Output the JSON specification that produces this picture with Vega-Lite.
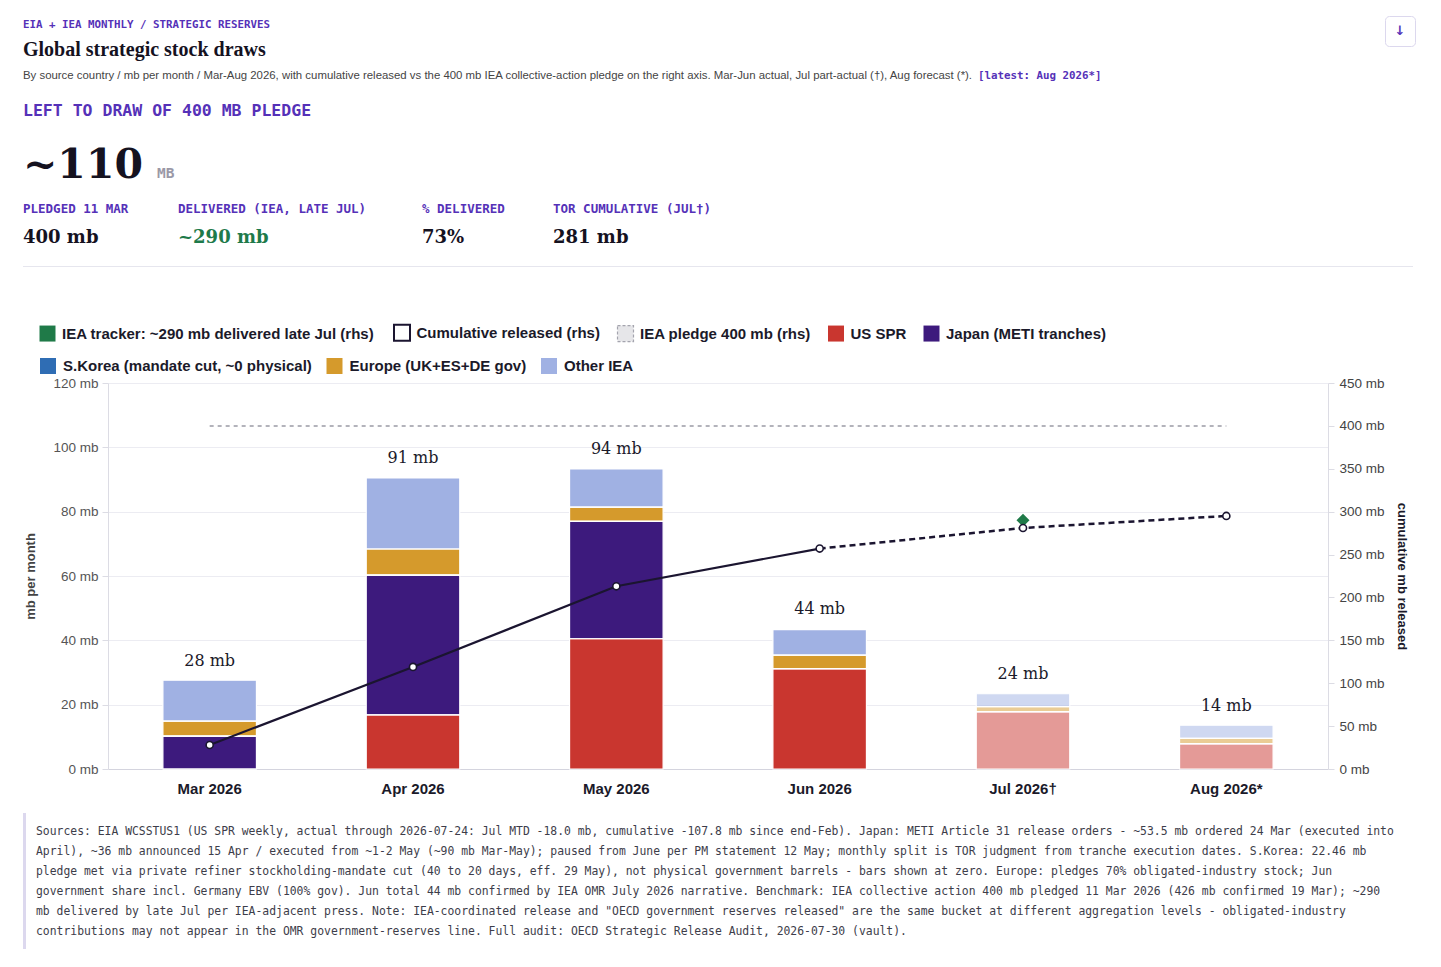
{
  "$schema": "https://vega.github.io/schema/vega-lite/v6.json",
  "background": "white",
  "padding": {"left": 23, "top": 15, "right": 10, "bottom": 5},
  "config": {
    "view": {"stroke": null},
    "font": "Liberation Sans",
    "title": {"anchor": "start", "frame": "group", "orient": "bottom", "baseline": "top"}
  },
  "datasets": {
    "stack": [
      {"month": "Mar 2026", "series": "US SPR", "mb": 0, "status": "actual"},
      {"month": "Mar 2026", "series": "Japan (METI tranches)", "mb": 10.2, "status": "actual"},
      {"month": "Mar 2026", "series": "S.Korea (mandate cut, ~0 physical)", "mb": 0, "status": "actual"},
      {"month": "Mar 2026", "series": "Europe (UK+ES+DE gov)", "mb": 4.7, "status": "actual"},
      {"month": "Mar 2026", "series": "Other IEA", "mb": 12.7, "status": "actual"},
      {"month": "Apr 2026", "series": "US SPR", "mb": 16.8, "status": "actual"},
      {"month": "Apr 2026", "series": "Japan (METI tranches)", "mb": 43.5, "status": "actual"},
      {"month": "Apr 2026", "series": "S.Korea (mandate cut, ~0 physical)", "mb": 0, "status": "actual"},
      {"month": "Apr 2026", "series": "Europe (UK+ES+DE gov)", "mb": 8.1, "status": "actual"},
      {"month": "Apr 2026", "series": "Other IEA", "mb": 22.1, "status": "actual"},
      {"month": "May 2026", "series": "US SPR", "mb": 40.5, "status": "actual"},
      {"month": "May 2026", "series": "Japan (METI tranches)", "mb": 36.5, "status": "actual"},
      {"month": "May 2026", "series": "S.Korea (mandate cut, ~0 physical)", "mb": 0, "status": "actual"},
      {"month": "May 2026", "series": "Europe (UK+ES+DE gov)", "mb": 4.4, "status": "actual"},
      {"month": "May 2026", "series": "Other IEA", "mb": 11.9, "status": "actual"},
      {"month": "Jun 2026", "series": "US SPR", "mb": 31.2, "status": "actual"},
      {"month": "Jun 2026", "series": "Japan (METI tranches)", "mb": 0, "status": "actual"},
      {"month": "Jun 2026", "series": "S.Korea (mandate cut, ~0 physical)", "mb": 0, "status": "actual"},
      {"month": "Jun 2026", "series": "Europe (UK+ES+DE gov)", "mb": 4.2, "status": "actual"},
      {"month": "Jun 2026", "series": "Other IEA", "mb": 7.9, "status": "actual"},
      {"month": "Jul 2026†", "series": "US SPR", "mb": 17.8, "status": "part-actual"},
      {"month": "Jul 2026†", "series": "Japan (METI tranches)", "mb": 0, "status": "part-actual"},
      {"month": "Jul 2026†", "series": "S.Korea (mandate cut, ~0 physical)", "mb": 0, "status": "part-actual"},
      {"month": "Jul 2026†", "series": "Europe (UK+ES+DE gov)", "mb": 1.6, "status": "part-actual"},
      {"month": "Jul 2026†", "series": "Other IEA", "mb": 4.0, "status": "part-actual"},
      {"month": "Aug 2026*", "series": "US SPR", "mb": 7.9, "status": "forecast"},
      {"month": "Aug 2026*", "series": "Japan (METI tranches)", "mb": 0, "status": "forecast"},
      {"month": "Aug 2026*", "series": "S.Korea (mandate cut, ~0 physical)", "mb": 0, "status": "forecast"},
      {"month": "Aug 2026*", "series": "Europe (UK+ES+DE gov)", "mb": 1.6, "status": "forecast"},
      {"month": "Aug 2026*", "series": "Other IEA", "mb": 4.1, "status": "forecast"}
    ],
    "totals": [
      {"month": "Mar 2026", "total": 28, "label": "28 mb", "cum": 28},
      {"month": "Apr 2026", "total": 91, "label": "91 mb", "cum": 119},
      {"month": "May 2026", "total": 94, "label": "94 mb", "cum": 213},
      {"month": "Jun 2026", "total": 44, "label": "44 mb", "cum": 257},
      {"month": "Jul 2026†", "total": 24, "label": "24 mb", "cum": 281},
      {"month": "Aug 2026*", "total": 14, "label": "14 mb", "cum": 295}
    ],
    "pledge": [
      {"month": "Mar 2026", "level": 400},
      {"month": "Aug 2026*", "level": 400}
    ],
    "tracker": [
      {"month": "Jul 2026†", "delivered": 290}
    ]
  },
  "resolve": {"scale": {"color": "independent", "fill": "independent"}},
  "spacing": 0,
  "vconcat": [
    {
      "spacing": 1,
      "hconcat": [
        {
          "spacing": 0,
          "vconcat": [
            {
              "width": 1360, "height": 1,
              "data": {"values": []}, "mark": "text",
              "title": {"text": "EIA + IEA MONTHLY / STRATEGIC RESERVES", "font": "DejaVu Sans Mono", "fontSize": 10.8, "fontWeight": "bold", "color": "#5531b8", "offset": 2}
            },
            {
              "spacing": 4,
              "hconcat": [
                {
                  "width": 1, "height": 1,
                  "data": {"values": []}, "mark": "text",
                  "title": {
                    "text": "Global strategic stock draws", "font": "Liberation Serif", "fontSize": 20, "fontWeight": "bold", "color": "#15121f", "offset": 9,
                    "subtitle": "By source country / mb per month / Mar-Aug 2026, with cumulative released vs the 400 mb IEA collective-action pledge on the right axis. Mar-Jun actual, Jul part-actual (†), Aug forecast (*).",
                    "subtitleFont": "Liberation Sans", "subtitleFontSize": 11.4, "subtitleColor": "#444444", "subtitlePadding": 10
                  }
                },
                {
                  "width": 1, "height": 1,
                  "data": {"values": []}, "mark": "text",
                  "title": {
                    "text": " ", "font": "Liberation Serif", "fontSize": 20, "offset": 9,
                    "subtitle": "[latest: Aug 2026*]",
                    "subtitleFont": "DejaVu Sans Mono", "subtitleFontSize": 10.8, "subtitleFontWeight": "bold", "subtitleColor": "#5531b8", "subtitlePadding": 10
                  }
                }
              ]
            }
          ]
        },
        {
          "width": 30, "height": 30,
          "view": {"stroke": "#dcd8ee", "strokeWidth": 1, "cornerRadius": 4, "fill": "white"},
          "data": {"values": []}, "mark": "text",
          "title": {"text": "↓", "anchor": "middle", "font": "DejaVu Sans", "fontSize": 13, "fontWeight": "bold", "color": "#5531b8", "offset": -21}
        }
      ]
    },
    {
      "width": 1390, "height": 1,
      "data": {"values": []}, "mark": "text",
      "title": {"text": "LEFT TO DRAW OF 400 MB PLEDGE", "font": "DejaVu Sans Mono", "fontSize": 16.5, "fontWeight": "bold", "color": "#5531b8", "offset": 20}
    },
    {
      "spacing": 14,
      "hconcat": [
        {
          "width": 1, "height": 1,
          "data": {"values": []}, "mark": "text",
          "title": {"text": "~110", "font": "DejaVu Serif", "fontSize": 41, "fontWeight": "bold", "color": "#15121f", "offset": 25}
        },
        {
          "width": 1, "height": 1,
          "data": {"values": []}, "mark": "text",
          "title": {"text": "MB", "font": "DejaVu Sans Mono", "fontSize": 14.5, "color": "#9a98a6", "offset": 46}
        }
      ]
    },
    {
      "spacing": 0,
      "hconcat": [
        {
          "width": 155, "height": 1,
          "data": {"values": []}, "mark": "text",
          "title": {"text": "PLEDGED 11 MAR", "font": "DejaVu Sans Mono", "fontSize": 12.5, "fontWeight": "bold", "color": "#5531b8", "offset": 16,
            "subtitle": "400 mb", "subtitleFont": "DejaVu Serif", "subtitleFontSize": 18, "subtitleFontWeight": "bold", "subtitleColor": "#15121f", "subtitlePadding": 13}
        },
        {
          "width": 244, "height": 1,
          "data": {"values": []}, "mark": "text",
          "title": {"text": "DELIVERED (IEA, LATE JUL)", "font": "DejaVu Sans Mono", "fontSize": 12.5, "fontWeight": "bold", "color": "#5531b8", "offset": 16,
            "subtitle": "~290 mb", "subtitleFont": "DejaVu Serif", "subtitleFontSize": 18, "subtitleFontWeight": "bold", "subtitleColor": "#1e7a4a", "subtitlePadding": 13}
        },
        {
          "width": 131, "height": 1,
          "data": {"values": []}, "mark": "text",
          "title": {"text": "% DELIVERED", "font": "DejaVu Sans Mono", "fontSize": 12.5, "fontWeight": "bold", "color": "#5531b8", "offset": 16,
            "subtitle": "73%", "subtitleFont": "DejaVu Serif", "subtitleFontSize": 18, "subtitleFontWeight": "bold", "subtitleColor": "#15121f", "subtitlePadding": 13}
        },
        {
          "width": 200, "height": 1,
          "data": {"values": []}, "mark": "text",
          "title": {"text": "TOR CUMULATIVE (JUL†)", "font": "DejaVu Sans Mono", "fontSize": 12.5, "fontWeight": "bold", "color": "#5531b8", "offset": 16,
            "subtitle": "281 mb", "subtitleFont": "DejaVu Serif", "subtitleFontSize": 18, "subtitleFontWeight": "bold", "subtitleColor": "#15121f", "subtitlePadding": 13}
        }
      ]
    },
    {"width": 1390, "height": 19, "data": {"values": []}, "mark": "text"},
    {"width": 1390, "height": 1, "view": {"fill": "#e6e6ee"}, "data": {"values": []}, "mark": "text"},
    {"width": 1390, "height": 58, "data": {"values": []}, "mark": "text"},
    {
      "resolve": {"scale": {"color": "independent", "fill": "independent"}},
      "spacing": 0,
      "hconcat": [
        {"width": 1, "height": 386, "data": {"values": []}, "mark": "text"},
        {
          "width": 1220,
          "height": 386,
          "layer": [
            {
              "layer": [
                {
                  "data": {"name": "stack"},
                  "transform": [
                    {"calculate": "indexof(['US SPR', 'Japan (METI tranches)', 'S.Korea (mandate cut, ~0 physical)', 'Europe (UK+ES+DE gov)', 'Other IEA'], datum.series)", "as": "stack_order"}
                  ],
                  "mark": {"type": "bar"},
                  "encoding": {
                    "x": {
                      "field": "month", "type": "nominal", "title": null,
                      "sort": ["Mar 2026", "Apr 2026", "May 2026", "Jun 2026", "Jul 2026†", "Aug 2026*"],
                      "scale": {"paddingInner": 0.54, "paddingOuter": 0.27},
                      "axis": {"labelAngle": 0, "labelFont": "Liberation Sans", "labelFontSize": 15, "labelFontWeight": "bold", "labelColor": "#1b1a2a", "ticks": false, "domainColor": "#d4d4de", "labelPadding": 12}
                    },
                    "y": {
                      "field": "mb", "type": "quantitative", "title": "mb per month",
                      "scale": {"domain": [0, 120]},
                      "axis": {
                        "values": [0, 20, 40, 60, 80, 100, 120], "labelExpr": "datum.value + ' mb'",
                        "grid": true, "gridColor": "#ececf2", "domainColor": "#dcdce4", "tickColor": "#dcdce4", "tickSize": 6,
                        "labelFont": "Liberation Sans", "labelFontSize": 13.5, "labelColor": "#555555", "labelPadding": 4,
                        "titleFont": "Liberation Sans", "titleFontSize": 13, "titleFontWeight": "bold", "titleColor": "#444444", "titlePadding": 15
                      }
                    },
                    "color": {
                      "field": "series", "type": "nominal",
                      "scale": {
                        "domain": ["IEA tracker: ~290 mb delivered late Jul (rhs)", "Cumulative released (rhs)", "IEA pledge 400 mb (rhs)", "US SPR", "Japan (METI tranches)", "S.Korea (mandate cut, ~0 physical)", "Europe (UK+ES+DE gov)", "Other IEA"],
                        "range": ["#1f7a48", "#ffffff", "#e6e6e9", "#c9362f", "#3d1a7d", "#2f6db4", "#d59a2c", "#a0b1e3"]
                      },
                      "legend": {
                        "orient": "none", "legendX": -68, "legendY": -58, "direction": "horizontal",
                        "values": ["IEA tracker: ~290 mb delivered late Jul (rhs)", "Cumulative released (rhs)", "IEA pledge 400 mb (rhs)", "US SPR", "Japan (METI tranches)"],
                        "title": null, "symbolType": "square", "symbolSize": 256, "symbolOpacity": 1,
                        "labelFont": "Liberation Sans", "labelFontSize": 15, "labelFontWeight": "bold", "labelColor": "#1b1a2a", "labelLimit": 500,
                        "columnPadding": 14.5, "labelOffset": 7,
                        "encode": {
                          "symbols": {
                            "update": {
                              "stroke": {"signal": "datum.label === 'Cumulative released (rhs)' ? '#1b1530' : datum.label === 'IEA pledge 400 mb (rhs)' ? '#a4a4ae' : 'transparent'"},
                              "strokeWidth": {"signal": "datum.label === 'Cumulative released (rhs)' ? 2 : 1.2"},
                              "strokeDash": {"signal": "datum.label === 'IEA pledge 400 mb (rhs)' ? [3, 2] : []"},
                              "opacity": {"value": 1}
                            }
                          }
                        }
                      }
                    },
                    "order": {"field": "stack_order", "type": "quantitative"},
                    "opacity": {"condition": {"test": "datum.status !== 'actual'", "value": 0.5}, "value": 1}
                  }
                },
                {
                  "data": {"name": "stack"},
                  "transform": [
                    {"calculate": "indexof(['US SPR', 'Japan (METI tranches)', 'S.Korea (mandate cut, ~0 physical)', 'Europe (UK+ES+DE gov)', 'Other IEA'], datum.series)", "as": "stack_order"}
                  ],
                  "mark": {"type": "bar", "fillOpacity": 0, "stroke": "white", "strokeWidth": 1.2},
                  "encoding": {
                    "x": {"field": "month", "type": "nominal", "title": null, "sort": ["Mar 2026", "Apr 2026", "May 2026", "Jun 2026", "Jul 2026†", "Aug 2026*"]},
                    "y": {"field": "mb", "type": "quantitative", "title": "mb per month"},
                    "detail": {"field": "series"},
                    "order": {"field": "stack_order", "type": "quantitative"}
                  }
                },
                {
                  "data": {"name": "stack"},
                  "transform": [
                    {"filter": {"field": "series", "oneOf": ["S.Korea (mandate cut, ~0 physical)", "Europe (UK+ES+DE gov)", "Other IEA"]}}
                  ],
                  "mark": {"type": "point", "filled": true, "opacity": 0, "size": 1},
                  "encoding": {
                    "x": {"field": "month", "type": "nominal", "title": null, "sort": ["Mar 2026", "Apr 2026", "May 2026", "Jun 2026", "Jul 2026†", "Aug 2026*"]},
                    "y": {"field": "mb", "type": "quantitative", "title": "mb per month"},
                    "fill": {
                      "field": "series", "type": "nominal",
                      "scale": {"domain": ["S.Korea (mandate cut, ~0 physical)", "Europe (UK+ES+DE gov)", "Other IEA"], "range": ["#2f6db4", "#d59a2c", "#a0b1e3"]},
                      "legend": {
                        "orient": "none", "legendX": -68, "legendY": -25, "direction": "horizontal",
                        "title": null, "symbolType": "square", "symbolSize": 256, "symbolOpacity": 1,
                        "labelFont": "Liberation Sans", "labelFontSize": 15, "labelFontWeight": "bold", "labelColor": "#1b1a2a", "labelLimit": 500,
                        "columnPadding": 14.5, "labelOffset": 7,
                        "encode": {
                          "symbols": {
                            "update": {
                              "stroke": {"value": "transparent"},
                              "strokeWidth": {"value": 0},
                              "opacity": {"value": 1}
                            }
                          }
                        }
                      }
                    }
                  }
                },
                {
                  "data": {"name": "totals"},
                  "mark": {"type": "text", "font": "DejaVu Serif", "fontSize": 16, "color": "#1b1a2a", "baseline": "alphabetic", "dy": -13},
                  "encoding": {
                    "x": {"field": "month", "type": "nominal", "title": null, "sort": ["Mar 2026", "Apr 2026", "May 2026", "Jun 2026", "Jul 2026†", "Aug 2026*"]},
                    "y": {"field": "total", "type": "quantitative", "title": "mb per month"},
                    "text": {"field": "label"}
                  }
                }
              ]
            },
            {
              "layer": [
                {
                  "data": {"name": "pledge"},
                  "mark": {"type": "line", "color": "#9a9aa5", "strokeWidth": 1.5, "strokeDash": [4, 4]},
                  "encoding": {
                    "x": {"field": "month", "type": "nominal", "title": null, "sort": ["Mar 2026", "Apr 2026", "May 2026", "Jun 2026", "Jul 2026†", "Aug 2026*"]},
                    "y": {
                      "field": "level", "type": "quantitative", "title": "cumulative mb released",
                      "scale": {"domain": [0, 450]},
                      "axis": {
                        "orient": "right", "values": [0, 50, 100, 150, 200, 250, 300, 350, 400, 450], "labelExpr": "datum.value + ' mb'",
                        "grid": false, "domainColor": "#dcdce4", "tickColor": "#dcdce4", "tickSize": 6,
                        "labelFont": "Liberation Sans", "labelFontSize": 13.5, "labelColor": "#444444", "labelPadding": 5,
                        "titleFont": "Liberation Sans", "titleFontSize": 13, "titleFontWeight": "bold", "titleColor": "#1b1a2a", "titlePadding": 10
                      }
                    }
                  }
                },
                {
                  "data": {"name": "totals"},
                  "transform": [{"filter": {"field": "month", "oneOf": ["Mar 2026", "Apr 2026", "May 2026", "Jun 2026"]}}],
                  "mark": {"type": "line", "color": "#1b1530", "strokeWidth": 2.2},
                  "encoding": {
                    "x": {"field": "month", "type": "nominal", "title": null, "sort": ["Mar 2026", "Apr 2026", "May 2026", "Jun 2026", "Jul 2026†", "Aug 2026*"]},
                    "y": {"field": "cum", "type": "quantitative", "title": "cumulative mb released"},
                    "order": {"field": "cum"}
                  }
                },
                {
                  "data": {"name": "totals"},
                  "transform": [{"filter": {"field": "month", "oneOf": ["Jun 2026", "Jul 2026†", "Aug 2026*"]}}],
                  "mark": {"type": "line", "color": "#1b1530", "strokeWidth": 2.5, "strokeDash": [6, 4]},
                  "encoding": {
                    "x": {"field": "month", "type": "nominal", "title": null, "sort": ["Mar 2026", "Apr 2026", "May 2026", "Jun 2026", "Jul 2026†", "Aug 2026*"]},
                    "y": {"field": "cum", "type": "quantitative", "title": "cumulative mb released"},
                    "order": {"field": "cum"}
                  }
                },
                {
                  "data": {"name": "tracker"},
                  "mark": {"type": "point", "shape": "diamond", "filled": true, "color": "#1f7a48", "size": 170, "opacity": 1},
                  "encoding": {
                    "x": {"field": "month", "type": "nominal", "title": null, "sort": ["Mar 2026", "Apr 2026", "May 2026", "Jun 2026", "Jul 2026†", "Aug 2026*"]},
                    "y": {"field": "delivered", "type": "quantitative", "title": "cumulative mb released"}
                  }
                },
                {
                  "data": {"name": "totals"},
                  "mark": {"type": "point", "filled": true, "fill": "white", "stroke": "#1b1530", "strokeWidth": 1.6, "size": 50, "opacity": 1},
                  "encoding": {
                    "x": {"field": "month", "type": "nominal", "title": null, "sort": ["Mar 2026", "Apr 2026", "May 2026", "Jun 2026", "Jul 2026†", "Aug 2026*"]},
                    "y": {"field": "cum", "type": "quantitative", "title": "cumulative mb released"}
                  }
                }
              ]
            }
          ],
          "resolve": {"scale": {"y": "independent"}}
        }
      ]
    },
    {"width": 1390, "height": 17, "data": {"values": []}, "mark": "text"},
    {
      "spacing": 10,
      "hconcat": [
        {"width": 3, "height": 136, "view": {"fill": "#dcd8ee"}, "data": {"values": []}, "mark": "text"},
        {
          "width": 1, "height": 1,
          "data": {"values": []}, "mark": "text",
          "title": {
            "text": [
              "Sources: EIA WCSSTUS1 (US SPR weekly, actual through 2026-07-24: Jul MTD -18.0 mb, cumulative -107.8 mb since end-Feb). Japan: METI Article 31 release orders - ~53.5 mb ordered 24 Mar (executed into",
              "April), ~36 mb announced 15 Apr / executed from ~1-2 May (~90 mb Mar-May); paused from June per PM statement 12 May; monthly split is TOR judgment from tranche execution dates. S.Korea: 22.46 mb",
              "pledge met via private refiner stockholding-mandate cut (40 to 20 days, eff. 29 May), not physical government barrels - bars shown at zero. Europe: pledges 70% obligated-industry stock; Jun",
              "government share incl. Germany EBV (100% gov). Jun total 44 mb confirmed by IEA OMR July 2026 narrative. Benchmark: IEA collective action 400 mb pledged 11 Mar 2026 (426 mb confirmed 19 Mar); ~290",
              "mb delivered by late Jul per IEA-adjacent press. Note: IEA-coordinated release and \"OECD government reserves released\" are the same bucket at different aggregation levels - obligated-industry",
              "contributions may not appear in the OMR government-reserves line. Full audit: OECD Strategic Release Audit, 2026-07-30 (vault)."
            ],
            "font": "DejaVu Sans Mono", "fontSize": 11.4, "fontWeight": "normal", "color": "#3d3d4a", "lineHeight": 20, "offset": 12
          }
        }
      ]
    }
  ]
}
